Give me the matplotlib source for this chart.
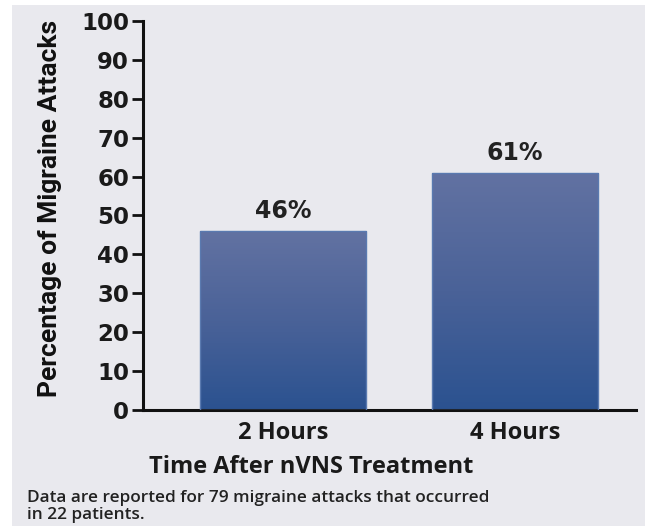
import matplotlib
matplotlib.use("Agg")
import matplotlib.pyplot as plt
import numpy as np
from matplotlib.patches import Rectangle
from matplotlib.colors import LinearSegmentedColormap
from matplotlib import font_manager

categories = ["2 Hours", "4 Hours"]
values = [46, 61]
labels = ["46%", "61%"]
yticks = [0, 10, 20, 30, 40, 50, 60, 70, 80, 90, 100]
xlabel = "Time After nVNS Treatment"
ylabel = "Percentage of Migraine Attacks"
footnote = "Data are reported for 79 migraine attacks that occurred\nin 22 patients."

names = {f.name for f in font_manager.fontManager.ttflist}
main_font = "Open Sans" if "Open Sans" in names else "DejaVu Sans"
narrow_font = "Liberation Sans Narrow" if "Liberation Sans Narrow" in names else "Roboto"

W, H = 652, 529
fig = plt.figure(figsize=(W / 100, H / 100), dpi=100, facecolor="white")
bg = "#e9e9ee"
fig.patches.append(Rectangle((12 / W, 3 / H), (645 - 12) / W, (524 - 3) / H,
                             transform=fig.transFigure, facecolor=bg,
                             edgecolor="none", zorder=-5))

ax = fig.add_axes([143 / W, (H - 410) / H, (636 - 143) / W, (410 - 21) / H])
ax.set_facecolor("none")
ax.set_zorder(2)

x = np.arange(len(categories))
bars = ax.bar(x, values, width=0.716, color="none", edgecolor="#5a7ab0",
              linewidth=1.0, zorder=3)

cmap = LinearSegmentedColormap.from_list("g", ["#2b5290", "#4a6298", "#6272a2"])
grad = np.linspace(0, 1, 256).reshape(-1, 1)
for b in bars:
    x0, y0 = b.get_x(), b.get_y()
    w, h = b.get_width(), b.get_height()
    im = ax.imshow(grad, cmap=cmap, aspect="auto", origin="lower",
                   extent=(x0, x0 + w, y0, y0 + h), zorder=2)
    im.set_clip_path(b)

for xi, v, lab in zip(x, values, labels):
    ax.text(xi, v + 2.0, lab, ha="center", va="bottom", fontsize=17,
            fontweight="bold", family="DejaVu Sans", color="#222222")

ax.set_xlim(-0.603, 1.52)
ax.set_ylim(0, 100)
ax.set_yticks(yticks)
ax.set_yticklabels([str(t) for t in yticks], fontsize=16.5, fontweight="bold",
                   family="DejaVu Sans", color="#1a1a1a")
ax.set_xticks(x)
ax.set_xticklabels(categories, fontsize=17, fontweight="bold",
                   family=main_font, color="#1a1a1a")
ax.tick_params(axis="y", direction="out", length=8, width=2, pad=2, color="#111111")
ax.tick_params(axis="x", length=0, pad=8)
for s in ["top", "right"]:
    ax.spines[s].set_visible(False)
for s in ["left", "bottom"]:
    ax.spines[s].set_linewidth(2.2)
    ax.spines[s].set_color("#111111")

ax.set_xlabel(xlabel, fontsize=17, fontweight="bold", family=main_font,
              color="#1a1a1a", labelpad=6)
ax.xaxis.set_label_coords((311 - 143) / (636 - 143), -0.115)
fig.text(50 / W, 1 - 208 / H, ylabel, rotation=90, ha="center", va="center",
         fontsize=19, fontweight="bold", family=narrow_font, color="#111111")

fig.text(27 / W, 1 - 490 / H, footnote, ha="left", va="top", fontsize=12.4,
         family=main_font, fontweight="semibold", color="#222222",
         linespacing=1.05)

fig.savefig("out.png", dpi=100, facecolor="white")
